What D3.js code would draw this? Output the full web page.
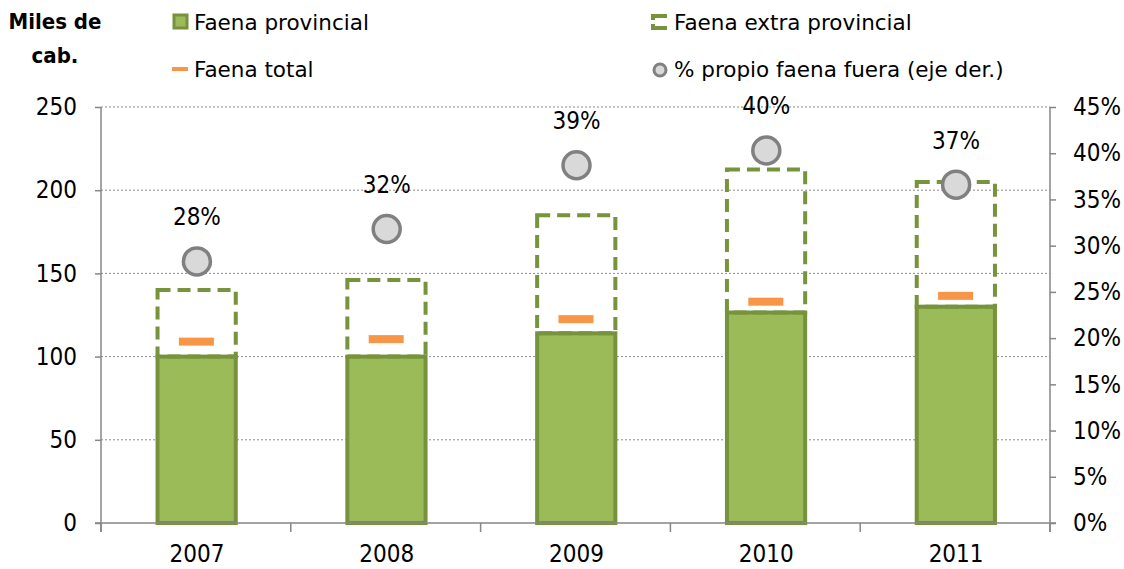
<!DOCTYPE html>
<meta charset="utf-8">
<style>
body { margin: 0; background: #fff; }
text { font-family: "DejaVu Sans Condensed", "DejaVu Sans", sans-serif; fill: #000; }
.lg text { font-family: "DejaVu Sans", sans-serif; }
.grid line { stroke: #8c8c8c; stroke-dasharray: 2,2; stroke-width: 1; }
.axis path, .axis line { stroke: #868686; stroke-width: 1.5; }
</style>
<svg width="1124" height="569"></svg>
<script src="https://d3js.org/d3.v7.min.js"></script>
<script>

var years = ["2007", "2008", "2009", "2010", "2011"];
var faenaProvincial = [100, 100, 114, 126.5, 130];
var faenaExtra = [40, 46, 71, 86, 75];
var faenaTotal = [109, 110.5, 122.5, 133, 136.5];
var propioFuera = [28.3, 31.8, 38.7, 40.3, 36.6];
var pctLabels = ["28%", "32%", "39%", "40%", "37%"];
var leftTicks = [0, 50, 100, 150, 200, 250];
var rightTicks = [0, 5, 10, 15, 20, 25, 30, 35, 40, 45];

var svg = d3.select("svg");
var mLeft = 101, mRight = 1050, mTop = 107, mBottom = 523;

var x = d3.scaleBand().domain(years).range([mLeft, mRight]).paddingInner(0.58).paddingOuter(0.29);
var y = d3.scaleLinear().domain([0, 250]).range([mBottom, mTop]);
var y2 = d3.scaleLinear().domain([0, 45]).range([mBottom, mTop]);

// gridlines
svg.append("g").attr("class", "grid")
  .selectAll("line").data(leftTicks.filter(function(d) { return d > 0; }))
  .enter().append("line")
    .attr("x1", mLeft).attr("x2", mRight)
    .attr("y1", function(d) { return y(d); })
    .attr("y2", function(d) { return y(d); });

// bars
var bw = x.bandwidth();
svg.append("g").selectAll("rect").data(years).enter().append("rect")
  .attr("x", function(d) { return x(d) + 1.5; })
  .attr("y", function(d, i) { return y(faenaProvincial[i]); })
  .attr("width", bw - 1.5)
  .attr("height", function(d, i) { return mBottom - y(faenaProvincial[i]); })
  .attr("fill", "#9bbb59").attr("stroke", "#76923c").attr("stroke-width", 4);

svg.append("g").selectAll("rect").data(years).enter().append("rect")
  .attr("x", function(d) { return x(d) + 1.5; })
  .attr("y", function(d, i) { return y(faenaProvincial[i] + faenaExtra[i]); })
  .attr("width", bw - 1.5)
  .attr("height", function(d, i) { return y(faenaProvincial[i]) - y(faenaProvincial[i] + faenaExtra[i]); })
  .attr("fill", "none").attr("stroke", "#77933c").attr("stroke-width", 4)
  .attr("stroke-dasharray", "13,7");

// faena total markers
svg.append("g").selectAll("rect").data(years).enter().append("rect")
  .attr("x", function(d) { return x(d) + bw / 2 - 17; })
  .attr("y", function(d, i) { return y(faenaTotal[i]) - 4; })
  .attr("width", 35).attr("height", 8)
  .attr("fill", "#f79646");

// axes
var axL = svg.append("g").attr("class", "axis")
  .attr("transform", "translate(" + mLeft + ",0)")
  .call(d3.axisLeft(y).tickValues(leftTicks).tickSize(6).tickSizeOuter(0));
axL.selectAll("text").attr("font-size", 24).attr("dx", -15);

var axR = svg.append("g").attr("class", "axis")
  .attr("transform", "translate(" + mRight + ",0)")
  .call(d3.axisRight(y2).tickValues(rightTicks).tickSize(6).tickSizeOuter(0)
    .tickFormat(function(d) { return d + "%"; }));
axR.selectAll("text").attr("font-size", 24).attr("dx", 14);

var axB = svg.append("g").attr("class", "axis")
  .attr("transform", "translate(0," + mBottom + ")");
axB.append("line").attr("x1", mLeft - 6).attr("x2", mRight + 6).attr("y1", 0).attr("y2", 0);
axB.selectAll(".sep").data(d3.range(years.length + 1)).enter().append("line")
  .attr("x1", function(i) { return mLeft + i * (mRight - mLeft) / years.length; })
  .attr("x2", function(i) { return mLeft + i * (mRight - mLeft) / years.length; })
  .attr("y1", 0).attr("y2", 9);
axB.selectAll("text").data(years).enter().append("text")
  .attr("x", function(d) { return x(d) + bw / 2 + 1; })
  .attr("y", 39).attr("text-anchor", "middle").attr("font-size", 24)
  .text(function(d) { return d; });
axL.select(".domain").attr("d", "M0," + (mBottom + 9) + "V" + mTop);
axR.select(".domain").attr("d", "M0," + (mBottom + 9) + "V" + mTop);

// percentage points
svg.append("g").selectAll("circle").data(years).enter().append("circle")
  .attr("cx", function(d) { return x(d) + bw / 2 + 1; })
  .attr("cy", function(d, i) { return y2(propioFuera[i]); })
  .attr("r", 13.5)
  .attr("fill", "#d9d9d9").attr("stroke", "#808080").attr("stroke-width", 3.5);

svg.append("g").selectAll("text").data(years).enter().append("text")
  .attr("x", function(d) { return x(d) + bw / 2 + 1; })
  .attr("y", function(d, i) { return y2(propioFuera[i]) - 36; })
  .attr("text-anchor", "middle").attr("font-size", 24)
  .text(function(d, i) { return pctLabels[i]; });

// axis title
svg.append("text").attr("x", 55).attr("y", 29).attr("text-anchor", "middle")
  .attr("font-size", 22).attr("font-weight", "bold").text("Miles de");
svg.append("text").attr("x", 55).attr("y", 63).attr("text-anchor", "middle")
  .attr("font-size", 22).attr("font-weight", "bold").text("cab.");

// legend
var lg = svg.append("g").attr("class", "lg");
lg.append("rect").attr("x", 174).attr("y", 15).attr("width", 13).attr("height", 13)
  .attr("fill", "#9bbb59").attr("stroke", "#76923c").attr("stroke-width", 3);
lg.append("text").attr("x", 194).attr("y", 30).attr("font-size", 21.5).text("Faena provincial");
lg.append("rect").attr("x", 172).attr("y", 67).attr("width", 16).attr("height", 4).attr("fill", "#f79646");
lg.append("text").attr("x", 194).attr("y", 77).attr("font-size", 21.5).text("Faena total");
lg.append("path").attr("d", "M653,20 V16 H667 M653,24 V28 H667")
  .attr("fill", "none").attr("stroke", "#77933c").attr("stroke-width", 4);
lg.append("text").attr("x", 674).attr("y", 30).attr("font-size", 21.5).text("Faena extra provincial");
lg.append("circle").attr("cx", 660).attr("cy", 70).attr("r", 6)
  .attr("fill", "#d9d9d9").attr("stroke", "#808080").attr("stroke-width", 3);
lg.append("text").attr("x", 674).attr("y", 77).attr("font-size", 21.5).text("% propio faena fuera (eje der.)");

</script>
